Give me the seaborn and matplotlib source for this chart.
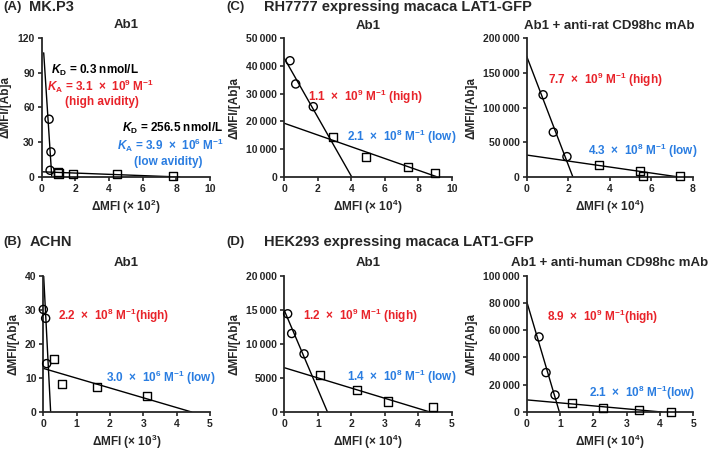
import matplotlib
matplotlib.use('Agg')
import matplotlib.pyplot as plt
import matplotlib.ticker as mticker
import seaborn as sns

# ---- data ----
# (A) MK.P3, Ab1  (x in 10^2)
a_hi_x = [0.44, 0.55, 0.50]
a_hi_y = [49.8, 21.6, 5.8]
a_lo_x = [0.95, 1.00, 1.88, 4.46, 7.82]
a_lo_y = [4.5, 3.0, 2.3, 2.3, 0.9]
a_hi_fit = ([0.12, 0.60], [107, 0])
a_lo_fit = ([0, 8.2], [4.5, 0])

# (B) ACHN, Ab1  (x in 10^3)
b_hi_x = [0.0, 0.07, 0.10]
b_hi_y = [30.1, 27.5, 14.2]
b_lo_x = [0.32, 0.55, 1.62, 3.10]
b_lo_y = [15.6, 8.2, 7.4, 4.7]
b_hi_fit = ([0.01, 0.22], [40, 0])
b_lo_fit = ([0, 4.45], [12.8, 0])

# (C) RH7777, Ab1  (x in 10^4)
c1_hi_x = [0.34, 0.68, 1.73]
c1_hi_y = [41900, 33500, 25300]
c1_lo_x = [2.89, 4.88, 7.37, 9.00]
c1_lo_y = [14300, 7230, 3600, 1450]
c1_hi_fit = ([0, 4.02], [42800, 0])
c1_lo_fit = ([0, 9.1], [19300, 0])

# (C) RH7777, Ab1 + anti-rat CD98hc mAb
c2_hi_x = [0.79, 1.28, 1.94]
c2_hi_y = [118400, 64300, 29000]
c2_lo_x = [3.48, 5.46, 5.62, 7.39]
c2_lo_y = [17400, 7700, 1400, 500]
c2_hi_fit = ([0, 2.22], [173900, 0])
c2_lo_fit = ([0, 7.23], [31300, 0])

# (D) HEK293, Ab1
d1_hi_x = [0.10, 0.22, 0.59]
d1_hi_y = [14410, 11520, 8530]
d1_lo_x = [1.07, 2.16, 3.09, 4.45]
d1_lo_y = [5400, 3230, 1540, 670]
d1_hi_fit = ([0, 1.29], [14900, 0])
d1_lo_fit = ([0, 4.35], [6500, 0])

# (D) HEK293, Ab1 + anti-human CD98hc mAb
d2_hi_x = [0.37, 0.58, 0.85]
d2_hi_y = [55100, 28900, 12500]
d2_lo_x = [1.37, 2.28, 3.38, 4.33]
d2_lo_y = [6500, 2900, 1200, 300]
d2_hi_fit = ([0, 0.98], [81100, 0])
d2_lo_fit = ([0, 4.05], [8900, 0])

RED = '#e8232a'
BLUE = '#2a7de1'
FS_ANN = 8.5

sns.set_style('ticks')
plt.rcParams['font.family'] = ['Liberation Sans', 'DejaVu Sans']
plt.rcParams['font.weight'] = 'bold'
plt.rcParams['axes.labelweight'] = 'bold'
plt.rcParams['axes.titleweight'] = 'bold'
plt.rcParams['mathtext.fontset'] = 'custom'
plt.rcParams['mathtext.rm'] = 'Liberation Sans:bold'
plt.rcParams['mathtext.it'] = 'Liberation Sans:bold:italic'
plt.rcParams['mathtext.bf'] = 'Liberation Sans:bold'

fig = plt.figure(figsize=(7.09, 4.54), dpi=100)


def fmt_y(v, pos):
    v = int(round(v))
    if v >= 10000:
        return '{:,}'.format(v).replace(',', '\u2009')
    return str(v)


def panel(rect, hi_x, hi_y, lo_x, lo_y, hi_fit, lo_fit, xmax, xstep, ymax, ystep, title, xexp):
    ax = fig.add_axes(rect)
    sns.lineplot(x=hi_fit[0], y=hi_fit[1], ax=ax, color='black', lw=1, sort=False, estimator=None)
    sns.lineplot(x=lo_fit[0], y=lo_fit[1], ax=ax, color='black', lw=1, sort=False, estimator=None)
    sns.scatterplot(x=hi_x, y=hi_y, ax=ax, marker='o', s=34, facecolor='none',
                    edgecolor='black', linewidth=1, clip_on=False, zorder=3)
    sns.scatterplot(x=lo_x, y=lo_y, ax=ax, marker='s', s=34, facecolor='none',
                    edgecolor='black', linewidth=1, clip_on=False, zorder=3)
    ax.set_xlim(0, xmax)
    ax.set_ylim(0, ymax)
    ax.xaxis.set_major_locator(mticker.MultipleLocator(xstep))
    ax.yaxis.set_major_locator(mticker.MultipleLocator(ystep))
    ax.yaxis.set_major_formatter(mticker.FuncFormatter(fmt_y))
    ax.tick_params(labelsize=7.5, length=3, width=1.2, pad=2)
    for lab in ax.get_xticklabels() + ax.get_yticklabels():
        lab.set_fontweight('bold')
    sns.despine(ax=ax)
    for s in ['left', 'bottom']:
        ax.spines[s].set_linewidth(1.3)
    ax.set_xlabel(r'ΔMFI (× 10$^{%d}$)' % xexp, fontsize=8.5, labelpad=3)
    ax.set_ylabel('ΔMFI/[Ab]a', fontsize=8.5, labelpad=4)
    ax.set_title(title, fontsize=9.5, pad=7)
    return ax


def note(ax, x, y, s, color, ha='left'):
    ax.text(x, y, s, fontsize=FS_ANN, ha=ha, va='center', color=color)


ka = r'$K$$_\mathrm{A}$'
kd = r'$K$$_\mathrm{D}$'
X = '  ×  '

# (A)
ax = panel([0.0588, 0.6101, 0.2374, 0.3068], a_hi_x, a_hi_y, a_lo_x, a_lo_y,
           a_hi_fit, a_lo_fit, 10, 2, 120, 30, 'Ab1', 2)
note(ax, 3.17, 92, kd + ' = 0.3 nmol/L', 'black', 'center')
note(ax, 3.47, 78, ka + ' = 3.1' + X + r'10$^{9}$ M$^{-1}$', RED, 'center')
note(ax, 3.56, 65, '(high avidity)', RED, 'center')
note(ax, 7.76, 42, kd + ' = 256.5 nmol/L', 'black', 'center')
note(ax, 7.66, 27, ka + ' = 3.9' + X + r'10$^{6}$ M$^{-1}$', BLUE, 'center')
note(ax, 7.52, 13, '(low avidity)', BLUE, 'center')

# (B)
ax = panel([0.0611, 0.0925, 0.2351, 0.3002], b_hi_x, b_hi_y, b_lo_x, b_lo_y,
           b_hi_fit, b_lo_fit, 5, 1, 40, 10, 'Ab1', 3)
note(ax, 0.45, 28.1, '2.2' + X + r'10$^{8}$ M$^{-1}$(high)', RED)
note(ax, 1.88, 10.1, '3.0' + X + r'10$^{6}$ M$^{-1}$ (low)', BLUE)

# (C) left
ax = panel([0.401, 0.6108, 0.2361, 0.3048], c1_hi_x, c1_hi_y, c1_lo_x, c1_lo_y,
           c1_hi_fit, c1_lo_fit, 10, 2, 50000, 10000, 'Ab1', 4)
note(ax, 1.43, 28700, '1.1' + X + r'10$^{9}$ M$^{-1}$ (high)', RED)
note(ax, 3.76, 14460, '2.1' + X + r'10$^{8}$ M$^{-1}$ (low)', BLUE)

# (C) right
ax = panel([0.7429, 0.6108, 0.2341, 0.3048], c2_hi_x, c2_hi_y, c2_lo_x, c2_lo_y,
           c2_hi_fit, c2_lo_fit, 8, 2, 200000, 50000, 'Ab1 + anti-rat CD98hc mAb', 4)
note(ax, 1.04, 139800, '7.7' + X + r'10$^{9}$ M$^{-1}$ (high)', RED)
note(ax, 2.97, 37100, '4.3' + X + r'10$^{8}$ M$^{-1}$ (low)', BLUE)

# (D) left
ax = panel([0.401, 0.0925, 0.2361, 0.3002], d1_hi_x, d1_hi_y, d1_lo_x, d1_lo_y,
           d1_hi_fit, d1_lo_fit, 5, 1, 20000, 5000, 'Ab1', 4)
note(ax, 0.55, 14070, '1.2' + X + r'10$^{9}$ M$^{-1}$ (high)', RED)
note(ax, 1.88, 5160, '1.4' + X + r'10$^{8}$ M$^{-1}$ (low)', BLUE)

# (D) right
ax = panel([0.7429, 0.0925, 0.235, 0.3002], d2_hi_x, d2_hi_y, d2_lo_x, d2_lo_y,
           d2_hi_fit, d2_lo_fit, 5, 1, 100000, 20000, 'Ab1 + anti-human CD98hc mAb', 4)
note(ax, 0.6, 69600, '8.9' + X + r'10$^{9}$ M$^{-1}$(high)', RED)
note(ax, 1.88, 14200, '2.1' + X + r'10$^{8}$ M$^{-1}$(low)', BLUE)

# panel headers
H = 454.0
W = 709.0
for px, py, s in [(3, 7, '(A)'), (29, 7, 'MK.P3'),
                  (226, 7, '(C)'), (264, 7, 'RH7777 expressing macaca LAT1-GFP'),
                  (3, 242, '(B)'), (30, 242, 'ACHN'),
                  (226, 242, '(D)'), (264, 242, 'HEK293 expressing macaca LAT1-GFP')]:
    fs = 9.5 if s.startswith('(') else 10.5
    fig.text(px / W, 1 - py / H, s, fontsize=fs, fontweight='bold', va='center', ha='left')

fig.savefig('out.png', dpi=100)
